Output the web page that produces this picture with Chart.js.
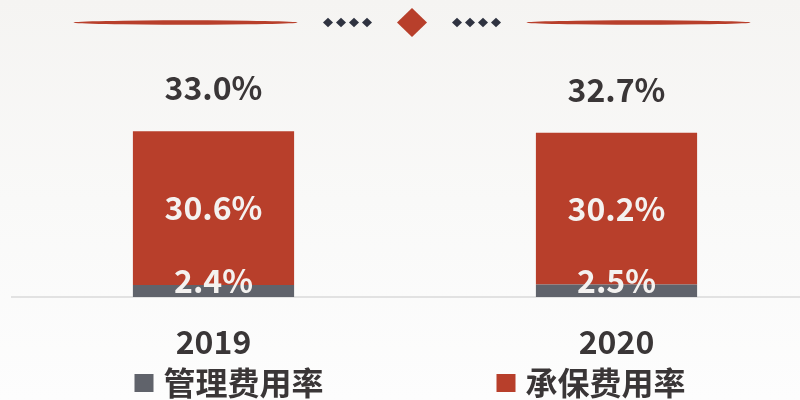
<!DOCTYPE html>
<html>
<head>
<meta charset="utf-8">
<script src="https://cdn.jsdelivr.net/npm/chart.js@4/dist/chart.umd.min.js"></script>
<style>
  html, body { margin:0; padding:0; width:800px; height:400px; overflow:hidden;
    background: linear-gradient(to bottom, #f5f4f2 0%, #f9f9f8 50%, #fdfdfd 100%); }
  #wrap { position:absolute; left:0; top:0; width:830px; height:400px; }
</style>
</head>
<body>
<div id="wrap"><canvas id="c" width="830" height="400"></canvas></div>
<script>
const categories = ['2019', '2020'];
const seriesNames = ['管理费用率', '承保费用率'];
const mgmtRate = [2.4, 2.5];
const uwRate = [30.6, 30.2];
const totalRate = [33.0, 32.7];

const FONT = "'Noto Sans CJK SC', 'Noto Sans', sans-serif";
const WEIGHT = 'bold';
const RED = '#b83f2b';
const GRAY = '#60636b';
const DARK = '#3a3637';

const decoPlugin = {
  id: 'deco',
  beforeDraw(chart) {
    const ctx = chart.ctx;
    ctx.save();
    const cy = 22.5, cx = 412;
    [185.5, 638.5].forEach(mx => {
      ctx.beginPath();
      ctx.ellipse(mx, cy, 112, 2.2, 0, 0, Math.PI * 2);
      ctx.fillStyle = RED;
      ctx.fill();
    });
    ctx.fillStyle = '#2f3340';
    [328, 341, 354, 367, 457, 470, 483, 496].forEach(x => {
      ctx.beginPath();
      ctx.moveTo(x, cy - 4.7);
      ctx.lineTo(x + 5, cy);
      ctx.lineTo(x, cy + 4.7);
      ctx.lineTo(x - 5, cy);
      ctx.closePath();
      ctx.fill();
    });
    ctx.fillStyle = RED;
    ctx.beginPath();
    ctx.moveTo(cx, cy - 14.5);
    ctx.lineTo(cx + 15, cy);
    ctx.lineTo(cx, cy + 14.5);
    ctx.lineTo(cx - 15, cy);
    ctx.closePath();
    ctx.fill();
    ctx.restore();
  }
};

const labelPlugin = {
  id: 'labels',
  afterDatasetsDraw(chart) {
    const ctx = chart.ctx;
    const area = chart.chartArea;
    ctx.save();
    ctx.font = WEIGHT + " 32px " + FONT;
    ctx.textAlign = 'center';
    ctx.textBaseline = 'middle';
    chart.data.datasets.forEach((ds, di) => {
      const meta = chart.getDatasetMeta(di);
      meta.data.forEach((el, i) => {
        let y = (el.y + el.base) / 2;
        y = Math.min(y, area.bottom - 16);
        ctx.fillStyle = '#f4f2f0';
        ctx.fillText(ds.data[i].toFixed(1) + '%', el.x, y);
      });
    });
    const topMeta = chart.getDatasetMeta(chart.data.datasets.length - 1);
    topMeta.data.forEach((el, i) => {
      ctx.fillStyle = DARK;
      ctx.fillText(totalRate[i].toFixed(1) + '%', el.x, el.y - 43);
    });
    ctx.restore();
  }
};

const legendPlugin = {
  id: 'customLegend',
  afterDraw(chart) {
    const ctx = chart.ctx;
    ctx.save();
    ctx.font = WEIGHT + " 32px " + FONT;
    ctx.textBaseline = 'middle';
    ctx.textAlign = 'left';
    const box = 19, gapText = 10, gapItem = 173, cy = 383;
    const items = chart.data.datasets.map(ds => ({
      label: ds.label, color: ds.backgroundColor,
      w: box + gapText + ctx.measureText(ds.label).width
    }));
    const total = items.reduce((s, it) => s + it.w, 0) + gapItem * (items.length - 1);
    let x = 410 - total / 2;
    items.forEach(it => {
      ctx.fillStyle = it.color;
      ctx.fillRect(x, cy - 9, box, 18);
      ctx.fillStyle = DARK;
      ctx.fillText(it.label, x + box + gapText, cy);
      x += it.w + gapItem;
    });
    ctx.restore();
  }
};

new Chart(document.getElementById('c'), {
  type: 'bar',
  data: {
    labels: categories,
    datasets: [
      { label: seriesNames[0], data: mgmtRate, backgroundColor: GRAY, barPercentage: 0.4, categoryPercentage: 1 },
      { label: seriesNames[1], data: uwRate, backgroundColor: RED, barPercentage: 0.4, categoryPercentage: 1 }
    ]
  },
  options: {
    responsive: false,
    animation: false,
    layout: { padding: { top: 96, left: 12, right: 12, bottom: 12.6 } },
    plugins: { legend: { display: false }, tooltip: { enabled: false } },
    scales: {
      x: {
        stacked: true,
        grid: { display: false, drawTicks: false },
        border: { display: true, color: '#e2e2e2', width: 2 },
        ticks: { color: DARK, font: { family: FONT, size: 32, weight: WEIGHT }, padding: 26 }
      },
      y: { stacked: true, display: false, min: 0, max: 40 }
    }
  },
  plugins: [decoPlugin, labelPlugin, legendPlugin]
});
</script>
</body>
</html>
